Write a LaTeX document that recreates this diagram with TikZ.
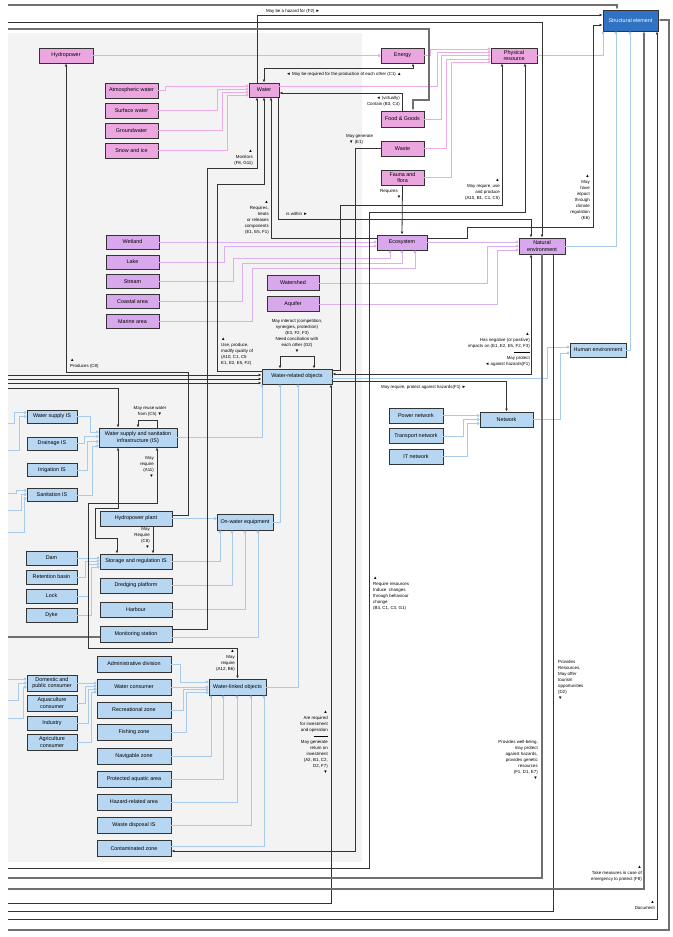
\documentclass[tikz,border=0pt]{standalone}
\usepackage{fontspec}
\setmainfont{Liberation Sans}
\usetikzlibrary{arrows.meta}
\definecolor{pinkf}{HTML}{EBA6E0}
\definecolor{purpf}{HTML}{D9A8EC}
\definecolor{bluef}{HTML}{B7D6F2}
\definecolor{sblue}{HTML}{2F73C2}
\definecolor{pinkl}{HTML}{EBADE1}
\definecolor{purpl}{HTML}{DBB0EE}
\definecolor{bluel}{HTML}{A8CBEB}
\definecolor{darkl}{HTML}{333333}
\definecolor{grayl}{HTML}{707070}
\definecolor{bggray}{HTML}{F3F3F3}
\tikzset{
  nbox/.style={draw=darkl, line width=0.9pt, rectangle, inner sep=0pt, align=center,
    font=\fontsize{5.4}{6.2}\selectfont, minimum height=15pt},
  pbox/.style={nbox, fill=pinkf},
  vbox/.style={nbox, fill=purpf},
  bbox/.style={nbox, fill=bluef},
  sbox/.style={nbox, fill=sblue, text=white},
  lbl/.style={font=\fontsize{4.4}{6}\selectfont, inner sep=0pt, align=center},
  lblr/.style={lbl, align=right, anchor=north east},
  lbll/.style={lbl, align=left, anchor=north west},
  arr/.style={-{Latex[length=3pt,width=2.8pt]}},
  arrb/.style={{Latex[length=3pt,width=2.8pt]}-{Latex[length=3pt,width=2.8pt]}},
  rel/.style={draw=darkl, line width=0.8pt},
  relg/.style={draw=grayl, line width=1.1pt},
  gp/.style={draw=pinkl, line width=0.75pt, -{Circle[length=3pt]}},
  gv/.style={draw=purpl, line width=0.75pt, -{Circle[length=3pt]}},
  gb/.style={draw=bluel, line width=0.75pt, -{Circle[length=3pt]}},
}
\begin{document}
\begin{tikzpicture}[x=1pt,y=-1pt]
\path[use as bounding box, fill=white] (0,0) rectangle (672,937);
\fill[bggray] (8,33) rectangle (362,862);

% ---------- nodes ----------
\node[pbox,minimum width=54pt] (hydro) at (66,55.5) {Hydropower};
\node[pbox,minimum width=53pt] (atm) at (131.5,90.5) {Atmospheric water};
\node[pbox,minimum width=53pt] (surf) at (131.5,110.5) {Surface water};
\node[pbox,minimum width=53pt] (ground) at (131.5,130.5) {Groundwater};
\node[pbox,minimum width=53pt] (snow) at (131.5,150.5) {Snow and ice};
\node[pbox,minimum width=30pt,minimum height=14pt] (water) at (264,90) {Water};
\node[pbox,minimum width=43pt] (energy) at (402.5,55.5) {Energy};
\node[pbox,minimum width=46pt] (pr) at (514,55.5) {Physical\\resource};
\node[sbox,minimum width=55pt,minimum height=21pt] (se) at (630.5,20.5) {Structural element};
\node[pbox,minimum width=43pt,minimum height=16pt] (fg) at (402.5,119) {Food \& Goods};
\node[pbox,minimum width=43pt] (waste) at (402.5,148.5) {Waste};
\node[pbox,minimum width=43pt] (fauna) at (402.5,177.5) {Fauna and\\flora};
\node[vbox,minimum width=50pt] (eco) at (402,242.5) {Ecosystem};
\node[vbox,minimum width=46pt,minimum height=16pt] (ne) at (542,246) {Natural\\environment};
\node[vbox,minimum width=53pt,minimum height=14pt] (wet) at (132.5,242) {Wetland};
\node[vbox,minimum width=53pt,minimum height=14pt] (lake) at (132.5,262) {Lake};
\node[vbox,minimum width=53pt,minimum height=14pt] (stream) at (132.5,281.5) {Stream};
\node[vbox,minimum width=53pt,minimum height=14pt] (coast) at (132.5,301.5) {Coastal area};
\node[vbox,minimum width=53pt,minimum height=14pt] (marine) at (132.5,321.5) {Marine area};
\node[vbox,minimum width=52pt] (wshed) at (293,283) {Watershed};
\node[vbox,minimum width=52pt] (aqf) at (293,304) {Aquifer};
\node[bbox,minimum width=70pt] (wro) at (297,376.5) {Water-related objects};
\node[bbox,minimum width=56pt,minimum height=14pt] (he) at (598,350) {Human environment};
\node[bbox,minimum width=53pt] (net) at (506.5,419.5) {Network};
\node[bbox,minimum width=54pt] (pow) at (416,415.5) {Power network};
\node[bbox,minimum width=54pt] (trn) at (416,436) {Transport network};
\node[bbox,minimum width=54pt] (itn) at (416,456.5) {IT network};
\node[bbox,minimum width=50pt,minimum height=13pt] (wsis) at (52,416.5) {Water supply IS};
\node[bbox,minimum width=50pt,minimum height=13pt] (drain) at (52,443.5) {Drainage IS};
\node[bbox,minimum width=50pt,minimum height=13pt] (irr) at (52,470) {Irrigation IS};
\node[bbox,minimum width=50pt,minimum height=13pt] (san) at (52,495) {Sanitation IS};
\node[bbox,minimum width=78pt,minimum height=19pt] (wssi) at (138,437.5) {Water supply and sanitation\\infrastructure (IS)};
\node[bbox,minimum width=72pt] (hpp) at (136,518.5) {Hydropower plant};
\node[bbox,minimum width=56pt,minimum height=16pt] (owe) at (245,522) {On-water equipment};
\node[bbox,minimum width=72pt] (stor) at (136,561.5) {Storage and regulation IS};
\node[bbox,minimum width=72pt] (dredge) at (136,585.5) {Dredging platform};
\node[bbox,minimum width=72pt] (harb) at (136,609.5) {Harbour};
\node[bbox,minimum width=72pt,minimum height=16pt] (mon) at (136,634) {Monitoring station};
\node[bbox,minimum width=51pt,minimum height=14pt] (dam) at (51.5,558) {Dam};
\node[bbox,minimum width=51pt,minimum height=14pt] (ret) at (51.5,577) {Retention basin};
\node[bbox,minimum width=51pt,minimum height=14pt] (lock) at (51.5,596) {Lock};
\node[bbox,minimum width=51pt,minimum height=14pt] (dyke) at (51.5,615) {Dyke};
\node[bbox,minimum width=74pt,minimum height=16pt] (admin) at (134,664) {Administrative division};
\node[bbox,minimum width=74pt,minimum height=16pt] (wc) at (134,687) {Water consumer};
\node[bbox,minimum width=74pt,minimum height=16pt] (rec) at (134,710) {Recreational zone};
\node[bbox,minimum width=74pt,minimum height=16pt] (fish) at (134,732.5) {Fishing zone};
\node[bbox,minimum width=74pt,minimum height=16pt] (nav) at (134,756.5) {Navigable zone};
\node[bbox,minimum width=74pt,minimum height=16pt] (prot) at (134,779) {Protected aquatic area};
\node[bbox,minimum width=74pt,minimum height=16pt] (haz) at (134,802) {Hazard-related area};
\node[bbox,minimum width=74pt,minimum height=16pt] (wdis) at (134,825.5) {Waste disposal IS};
\node[bbox,minimum width=74pt,minimum height=16pt] (cz) at (134,848.5) {Contaminated zone};
\node[bbox,minimum width=57pt,minimum height=16pt] (wlo) at (237.5,687) {Water-linked objects};
\node[bbox,minimum width=50pt,minimum height=16pt] (dom) at (52,683) {Domestic and\\public consumer};
\node[bbox,minimum width=50pt,minimum height=16pt] (aqua) at (52,703) {Aquaculture\\consumer};
\node[bbox,minimum width=50pt,minimum height=14pt] (ind) at (52,723.5) {Industry};
\node[bbox,minimum width=50pt,minimum height=16pt] (agri) at (52,742) {Agriculture\\consumer};

% ---------- generalisation links (pink) ----------
\draw[gp] (hydro.east) -- (energy.west);
\draw[gp] (atm.east) -| (165,86) -- (water.west |- 0,86);
\draw[gp] (surf.east) -| (217,89) -- (water.west |- 0,89);
\draw[gp] (ground.east) -| (222,92) -- (water.west |- 0,92);
\draw[gp] (snow.east) -| (227,95) -- (water.west |- 0,95);
\draw[gp] (energy.east) -| (430,49) -- (pr.west |- 0,49);
\draw[gp] (water.east |- 0,86) -| (437,52) -- (pr.west |- 0,52);
\draw[gp] (fg.east) -| (441,55.5) -- (pr.west |- 0,55.5);
\draw[gp] (waste.east) -| (446,59) -- (pr.west |- 0,59);
\draw[gp] (fauna.east) -| (451,62) -- (pr.west |- 0,62);

% ---------- purple ----------
\draw[gv] (wet.east) -- (eco.west |- 0,242);
\draw[gv] (lake.east) -| (224,246) -- (eco.west |- 0,246);
\draw[gv] (stream.east) -| (233,258) -| (eco.south -| 390,0);
\draw[gv] (coast.east) -| (242,263) -| (eco.south -| 402,0);
\draw[gv] (marine.east) -| (252,268) -| (eco.south -| 415,0);
\draw[gv] (eco.east |- 0,242) -- (ne.west |- 0,242);
\draw[gv] (wshed.east) -| (487,246) -- (ne.west |- 0,246);
\draw[gv] (aqf.east) -| (497,250) -- (ne.west |- 0,250);

% ---------- blue ----------
\draw[gb] (pr.east) -| (se.south -| 603,0);
\draw[gb] (ne.east) -| (se.south -| 616,0);
\draw[gb] (he.east) -| (se.south -| 630,0);
\draw[gb] (wro.east |- 0,378) -| (547,347) -- (he.west |- 0,347);
\draw[gb] (net.east) -| (560,353) -- (he.west |- 0,353);
\draw[gb] (pow.east) -- (net.west |- pow.east);
\draw[gb] (trn.east) -| (463,419.5) -- (net.west |- 0,419.5);
\draw[gb] (itn.east) -| (467,423.5) -- (net.west |- 0,423.5);
\draw[gb] (wsis.east) -| (90,432) -- (wssi.west |- 0,432);
\draw[gb] (drain.east) -| (84,436.5) -- (wssi.west |- 0,436.5);
\draw[gb] (irr.east) -| (87,441.5) -- (wssi.west |- 0,441.5);
\draw[gb] (san.east) -| (92,446) -- (wssi.west |- 0,446);
\draw[gb] (8,423) -| (14,412.5) -- (wsis.west |- 0,412.5);
\draw[gb] (8,450) -| (19,416.5) -- (wsis.west |- 0,416.5);
\draw[gb] (8,493) -| (16,490.5) -- (san.west |- 0,490.5);
\draw[gb] (8,510) -| (21,494.5) -- (san.west |- 0,494.5);
\draw[gb] (8,532) -| (24,498.5) -- (san.west |- 0,498.5);
\draw[gb] (8,679) -- (dom.west |- 0,679);
\draw[gb] (8,700) -| (18,683) -- (dom.west |- 0,683);
\draw[gb] (8,718) -| (23,687) -- (dom.west |- 0,687);
\draw[gb] (wssi.east) -| (wro.south -| 262,0);
\draw[gb] (owe.east) -| (wro.south -| 280,0);
\draw[gb] (wlo.east) -| (wro.south -| 298,0);
\draw[gb] (hpp.east) -- (owe.west |- hpp.east);
\draw[gb] (stor.east) -| (owe.south -| 220,0);
\draw[gb] (dredge.east) -| (owe.south -| 232,0);
\draw[gb] (harb.east) -| (owe.south -| 245,0);
\draw[gb] (mon.east |- 0,637) -| (owe.south -| 258,0);
\draw[gb] (dam.east) -- (stor.west |- dam.east);
\draw[gb] (ret.east) -| (85,561) -- (stor.west |- 0,561);
\draw[gb] (lock.east) -| (88,564) -- (stor.west |- 0,564);
\draw[gb] (dyke.east) -| (91,567) -- (stor.west |- 0,567);
\draw[gb] (dom.east) -- (wc.west |- dom.east);
\draw[gb] (aqua.east) -| (85,686) -- (wc.west |- 0,686);
\draw[gb] (ind.east) -| (88,689) -- (wc.west |- 0,689);
\draw[gb] (agri.east) -| (91,692) -- (wc.west |- 0,692);
\draw[gb] (admin.east) -| (180,682) -- (wlo.west |- 0,682);
\draw[gb] (wc.east) -- (wlo.west |- wc.east);
\draw[gb] (rec.east) -| (183,689.5) -- (wlo.west |- 0,689.5);
\draw[gb] (fish.east) -| (186,692.5) -- (wlo.west |- 0,692.5);
\draw[gb] (nav.east) -| (wlo.south -| 211,0);
\draw[gb] (prot.east) -| (wlo.south -| 223,0);
\draw[gb] (haz.east) -| (wlo.south -| 237,0);
\draw[gb] (wdis.east) -| (wlo.south -| 251,0);
\draw[gb] (cz.east |- 0,846) -| (wlo.south -| 264,0);

% ---------- relations (dark) ----------
\draw[relg,arr] (8,5) -| (se.north -| 617,0);
\draw[rel,arr] (water.north -| 257,0) |- (se.west |- 0,15);
\draw[rel,arr] (8,22) -| (ne.north -| 542,0);
\draw[relg,arr] (8,29) -| (429,100) -| (fg.north -| 413,0);
\draw[rel,arrb] (water.north) |- (413,68) -- (energy.south -| 413,0);
\draw[rel,arr] (fg.north) |- (water.east |- 0,93);
\draw[rel,arr] (waste.west) -| (355,851) -- (cz.east |- 0,851);
\draw[rel,arr] (fauna.south) -- (eco.north);
\draw[rel,arr] (eco.east |- 0,238) -| (467,227) -| (593,25) -- (se.west |- 0,25);
\draw[rel,arr] (water.south -| 278,0) |- (531,219) -- (ne.north -| 531,0);
\draw[rel,arr] (mon.east |- 0,629) -| (207,168) -| (water.south -| 257,0);
\draw[rel,arr] (wro.west |- 0,371) -| (217,184) -| (water.south -| 264,0);
\draw[rel,arr] (eco.west |- 0,238) -| (water.south -| 271,0);
\draw[rel,arr] (wro.east |- 0,370.5) -| (340,205) -| (pr.south -| 502,0);
\draw[rel,arr] (8,868) -| (369,212) -| (pr.south -| 525,0);
\draw[rel,arrb] (wro.east |- 0,374) -| (ne.south -| 531,0);
\draw[rel,arr] (wro.east |- 0,381.5) -| (net.north);
\draw[rel,arr] (8,903) -| (wro.south -| 331,0);
\draw[relg] (ne.south -| 542,0) |- (8,878);
\draw[rel] (ne.south -| 553,0) |- (8,911);
\draw[relg,arr] (8,889) -| (se.south -| 644,0);
\draw[rel,arr] (8,919) -| (se.south -| 657,0);
\draw[relg,arr] (8,930) -| (669,20) -- (se.east |- 0,20);
\draw[rel,arr] (8,375) -- (wro.west |- 0,375);
\draw[rel,arr] (8,379) -- (wro.west |- 0,379);
\draw[rel,arr] (8,383) -- (wro.west |- 0,383);
\draw[rel,arr] (8,388) -| (wssi.north -| 118,0);
\draw[relg] (8,637) -- (mon.west |- 0,637);
\draw[rel,arr] (hpp.east |- 0,515) -| (188,372) -| (hydro.south);
\draw[rel,arr] (wssi.north -| 157,0) |- (138,420) -- (wssi.north -| 138,0);
\draw[rel,arrb] (wssi.south -| 157,0) |- (88,503) |- (237.5,648) -- (wlo.north);
\draw[rel,arrb] (wssi.south -| 118,0) |- (95,508) |- (117,538) -- (stor.north -| 117,0);
\draw[rel,arr] (hpp.south -| 153,0) -- (stor.north -| 153,0);
\draw[rel,arrb] (wro.north -| 280,0) |- (314,356) -- (wro.north -| 314,0);

% ---------- labels ----------
\node[lbl] at (293,11.5) {May be a hazard for (F2) ►};
\node[lbl] at (344,74) {◄ May be required for the production of each other (C1) ▲};
\node[lblr] at (400,96) {◄ (virtually)\\Contain (B3, C4)};
\node[lbll] at (346,134.5) {May generate\\\hspace{3pt}▼ (E1)};
\node[lbl] at (389,191) {Requires};
\node[lbl] at (399,197) {▼};
\node[lblr] at (590,175) {▲\\May\\have\\impact\\through\\climate\\regulation\\(E6)};
\node[lblr] at (500,179) {▲\\May require, use\\and produce\\(A10, B1, C1, C5)};
\node[lblr] at (253,150) {▲\\Monitors\\(F8, G11)};
\node[lblr] at (269,201) {▲\\Requires,\\treats\\or releases\\components\\(E1, E5, F1)};
\node[lbl] at (297,214) {is within ►};
\node[lbl,anchor=north] at (297,319) {May interact (competition,\\synergies, protection)\\(E3, F2, F3)\\Need conciliation with\\each other (G2)\\▼};
\node[lbll] at (221,338) {▲\\Use, produce,\\modify quality of\\(A10, C1, C5\\E1, E2, E5, F2)};
\node[lbll] at (70,359) {▲\\Produces (C8)};
\node[lblr] at (530,333) {▲\\Has negative (or positive)\\impacts on (E1, E2, E5, F2, F3)\\\rule[1.5pt]{16pt}{0.3pt}\\May protect\\◄ against hazards(F1)};
\node[lbl,anchor=west] at (381,387) {May require, protect against hazards(F1) ►};
\node[lbl,anchor=north] at (150,406) {May reuse water\\from (C5) ▼};
\node[lblr] at (154,456) {May\\require\\(A11)\\▼};
\node[lblr] at (150,527) {May\\Require\\(C8)\\▼};
\node[lblr] at (235,650) {▲\\May\\require\\(A12, B6)};
\node[lbll] at (373,577) {▲\\Require resources\\Induce\ \ changes\\through behaviour\\change\\(B4, C1, C3, G1)};
\node[lbll] at (558,660) {Provides\\Resources,\\May offer\\tourism\\opportunities\\(D2)\\▼};
\node[lblr] at (328,711) {▲\\Are required\\for investment\\and operation\\\rule[1.5pt]{14pt}{0.3pt}\\May generate\\return on\\investment\\(A2, B1, C2,\\D2, F7)\\▼};
\node[lblr] at (538,740) {Provides well-being,\\may protect\\against hazards,\\provides genetic\\resources\\(F1, D1, E7)\\▼};
\node[lblr] at (642,866) {▲\\Take measures in case of\\emergency to protect (F8)};
\node[lblr] at (655,901) {▲\\Document};
\end{tikzpicture}
\end{document}
